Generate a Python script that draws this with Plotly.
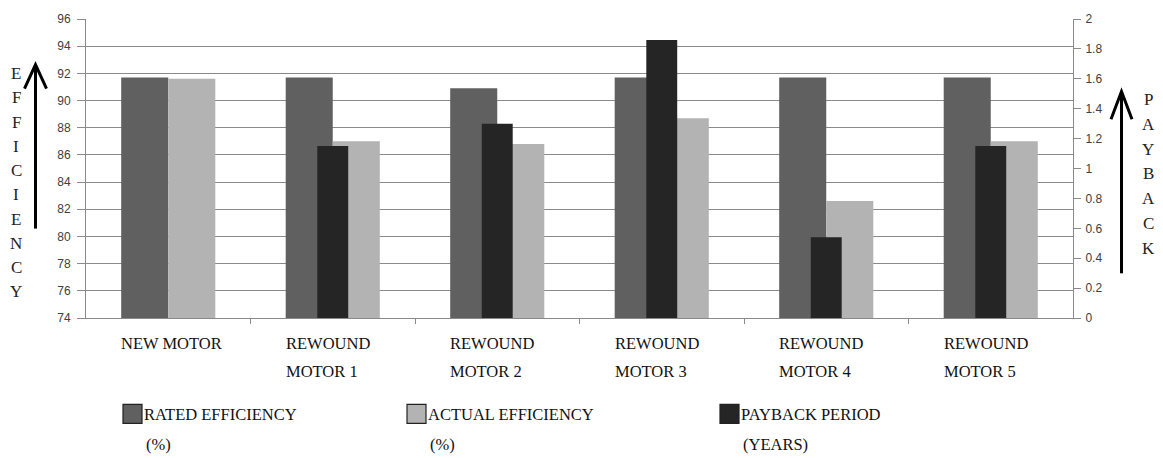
import plotly.graph_objects as go

# Motor comparison data
categories = ["NEW MOTOR", "REWOUND MOTOR 1", "REWOUND MOTOR 2",
              "REWOUND MOTOR 3", "REWOUND MOTOR 4", "REWOUND MOTOR 5"]
label_lines = [["NEW MOTOR"], ["REWOUND", "MOTOR 1"], ["REWOUND", "MOTOR 2"],
               ["REWOUND", "MOTOR 3"], ["REWOUND", "MOTOR 4"], ["REWOUND", "MOTOR 5"]]
rated_efficiency = [91.7, 91.7, 90.9, 91.7, 91.7, 91.7]
actual_efficiency = [91.6, 87.0, 86.8, 88.7, 82.6, 87.0]
payback_years = [None, 1.15, 1.30, 1.86, 0.54, 1.15]

legend_names = [["RATED EFFICIENCY", "(%)"], ["ACTUAL EFFICIENCY", "(%)"],
                ["PAYBACK PERIOD", "(YEARS)"]]

C_RATED = "#606060"
C_ACTUAL = "#b3b3b3"
C_PAYBACK = "#252525"
GRID = "#8a8a8a"
SERIF = "Liberation Serif, Times New Roman, serif"
SANS = "Liberation Sans Narrow, Liberation Sans, Arial, sans-serif"
TXT = 16.5

W, H = 1163, 458
L, R, T, B = 86, 1073, 17, 318   # plot area in pixels

HALF = 0.286    # width of each primary-axis bar (category units)
PB_W = 0.188    # width of the secondary-axis bar

x = list(range(len(categories)))


def px(xp):
    return (xp - L) / (R - L)


def py(yp):
    return (B - yp) / (B - T)


fig = go.Figure()
fig.add_trace(go.Bar(x=x, y=rated_efficiency, name="RATED EFFICIENCY (%)",
                     marker=dict(color=C_RATED, line=dict(width=0)),
                     offset=-HALF, width=HALF, yaxis="y"))
fig.add_trace(go.Bar(x=x, y=actual_efficiency, name="ACTUAL EFFICIENCY (%)",
                     marker=dict(color=C_ACTUAL, line=dict(width=0)),
                     offset=0, width=HALF, yaxis="y"))
fig.add_trace(go.Bar(x=x, y=payback_years, name="PAYBACK PERIOD (YEARS)",
                     marker=dict(color=C_PAYBACK, line=dict(width=0)),
                     offset=-PB_W / 2, width=PB_W, yaxis="y2"))

annotations = []
shapes = []

# category labels, left aligned under each cluster
for i, lines in enumerate(label_lines):
    for j, t in enumerate(lines):
        annotations.append(dict(
            x=i - HALF, xref="x", xanchor="left", xshift=-2,
            y=py(344 + 28 * j), yref="paper", yanchor="middle",
            text=t, showarrow=False,
            font=dict(family=SERIF, size=TXT, color="#111111")))

# legend
leg_x = [123, 407, 720]
leg_colors = [C_RATED, C_ACTUAL, C_PAYBACK]
for lx, col, names in zip(leg_x, leg_colors, legend_names):
    shapes.append(dict(type="rect", xref="paper", yref="paper",
                       x0=px(lx), x1=px(lx + 19), y0=py(424), y1=py(405),
                       fillcolor=col, line=dict(color="#222222", width=1.2)))
    annotations.append(dict(x=px(lx + 19), xref="paper", xanchor="left",
                            y=py(415), yref="paper", yanchor="middle",
                            text=names[0], showarrow=False,
                            font=dict(family=SERIF, size=TXT, color="#111111")))
    annotations.append(dict(x=px(lx + 21), xref="paper", xanchor="left",
                            y=py(445), yref="paper", yanchor="middle",
                            text=names[1], showarrow=False,
                            font=dict(family=SERIF, size=TXT, color="#111111")))

# vertical axis captions written letter by letter
for k, ch in enumerate("EFFICIENCY"):
    annotations.append(dict(x=px(16), xref="paper", xanchor="center",
                            y=py(72 + 24.4 * k), yref="paper", yanchor="middle",
                            text=ch, showarrow=False,
                            font=dict(family=SERIF, size=17, color="#222222")))
for k, ch in enumerate("PAYBACK"):
    annotations.append(dict(x=px(1148), xref="paper", xanchor="center",
                            y=py(98 + 25 * k), yref="paper", yanchor="middle",
                            text=ch, showarrow=False,
                            font=dict(family=SERIF, size=17, color="#222222")))


# upward arrows beside the captions
def arrow(xc, ytop, ybot, wing_dx, wing_dy):
    shapes.append(dict(type="line", xref="paper", yref="paper",
                       x0=px(xc), x1=px(xc), y0=py(ybot), y1=py(ytop + 1),
                       line=dict(color="black", width=3)))
    path = (f"M {px(xc - wing_dx)},{py(ytop + wing_dy)} "
            f"L {px(xc)},{py(ytop)} L {px(xc + wing_dx)},{py(ytop + wing_dy)}")
    shapes.append(dict(type="path", xref="paper", yref="paper", path=path,
                       line=dict(color="black", width=3)))


arrow(35.5, 63, 228, 11, 24)
arrow(1121.5, 90, 273, 10.5, 28)

fig.update_layout(
    width=W, height=H,
    margin=dict(l=L, r=W - R, t=T, b=H - B),
    paper_bgcolor="white", plot_bgcolor="white",
    barmode="overlay", showlegend=False,
    xaxis=dict(range=[-0.5, len(categories) - 0.5],
               tickvals=[i + 0.5 for i in range(len(categories) - 1)],
               showticklabels=False, ticks="outside", ticklen=5,
               tickcolor=GRID, showgrid=False, zeroline=False,
               showline=True, linecolor=GRID, linewidth=1),
    yaxis=dict(range=[74, 96], dtick=2, tick0=74,
               ticks="outside", ticklen=8, tickcolor=GRID,
               showgrid=True, gridcolor=GRID, gridwidth=1,
               showline=True, linecolor=GRID, linewidth=1, zeroline=False,
               tickfont=dict(family=SANS, size=12, color="#404040"),
               ticklabelstandoff=4),
    yaxis2=dict(range=[0, 2], dtick=0.2, tick0=0, overlaying="y", side="right",
                ticks="outside", ticklen=7, tickcolor=GRID,
                showgrid=False, zeroline=False,
                showline=True, linecolor=GRID, linewidth=1,
                tickfont=dict(family=SANS, size=12, color="#404040"),
                ticklabelstandoff=2),
    annotations=annotations,
    shapes=shapes,
)

fig.write_html("out.html")
